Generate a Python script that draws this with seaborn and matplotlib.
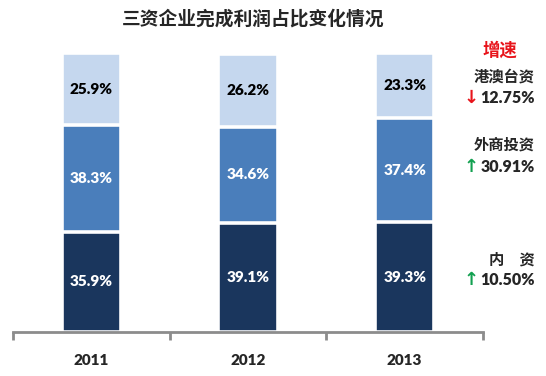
import matplotlib
matplotlib.use("Agg")
import matplotlib.pyplot as plt
import numpy as np
import pandas as pd
import seaborn as sns

# 数据
years = ["2011", "2012", "2013"]
domestic = [35.9, 39.1, 39.3]       # 内资
foreign = [38.3, 34.6, 37.4]        # 外商投资
hk_macao_tw = [25.9, 26.2, 23.3]    # 港澳台资
series_names = ["港澳台资", "外商投资", "内　资"]
growth = ["12.75%", "30.91%", "10.50%"]
growth_up = [False, True, True]

COLORS = {"dark": "#1A365D", "mid": "#4A7EBB", "light": "#C5D7EE"}
FONT = ["Lato", "Noto Sans CJK SC", "DejaVu Sans"]

sns.set_theme(style="white")
plt.rcParams["font.family"] = FONT

df = pd.DataFrame({
    "year": years,
    "low": domestic,
    "mid": np.add(domestic, foreign),
    "top": np.add(np.add(domestic, foreign), hk_macao_tw),
})

fig = plt.figure(figsize=(5.46, 3.76), dpi=100)
ax = fig.add_axes([13 / 546, 44 / 376, 470 / 546, 279 / 376])

# 叠加画累计柱，白色描边形成分隔
for col, color in (("top", COLORS["light"]), ("mid", COLORS["mid"]), ("low", COLORS["dark"])):
    sns.barplot(data=df, x="year", y=col, color=color, width=0.38,
                edgecolor="white", linewidth=2.6, ax=ax, saturation=1)

for i in range(len(years)):
    segs = [(0, domestic[i], "white"),
            (domestic[i], foreign[i], "white"),
            (domestic[i] + foreign[i], hk_macao_tw[i], "black")]
    for base, h, tc in segs:
        ax.text(i, base + h / 2, f"{h:.1f}%", ha="center", va="center",
                color=tc, fontsize=11, fontweight="heavy")

ax.set_xlim(-0.5, 2.5)
ax.set_ylim(0, 100.1)
ax.set_xlabel("")
ax.set_ylabel("")
ax.set_yticks([])
for s in ("left", "right", "top"):
    ax.spines[s].set_visible(False)
ax.spines["bottom"].set_color("#8C8C8C")
ax.spines["bottom"].set_linewidth(2)
ax.set_xticks(range(len(years)))
ax.set_xticklabels(years, fontsize=11, fontweight="heavy")
ax.tick_params(axis="x", which="major", bottom=True, length=0, pad=16)
ax.set_xticks([-0.5, 0.5, 1.5, 2.5], minor=True)
ax.tick_params(axis="x", which="minor", bottom=True, length=6, width=2,
               color="#8C8C8C", direction="out")

fig.text(253 / 546, 1 - 18 / 376, "三资企业完成利润占比变化情况",
         ha="center", va="center", fontsize=13.5, fontweight="bold")

# 右侧增速说明
fig.text(500 / 546, 1 - 50 / 376, "增速", ha="center", va="center",
         fontsize=12.5, fontweight="bold", color="#E8141B")
name_y = [77, 145, 260]
val_y = [98, 167, 280]
for name, g, up, ny, vy in zip(series_names, growth, growth_up, name_y, val_y):
    fig.text(535 / 546, 1 - ny / 376, name, ha="right", va="center",
             fontsize=11, fontweight="bold")
    fig.text(535 / 546, 1 - vy / 376, g, ha="right", va="center",
             fontsize=11.5, fontweight="heavy")
    fig.text(471 / 546, 1 - vy / 376, "↑" if up else "↓", ha="center",
             va="center", fontsize=13, fontweight="bold",
             family="DejaVu Sans", color="#12A050" if up else "#E8141B")

fig.savefig("out.png", dpi=100)
